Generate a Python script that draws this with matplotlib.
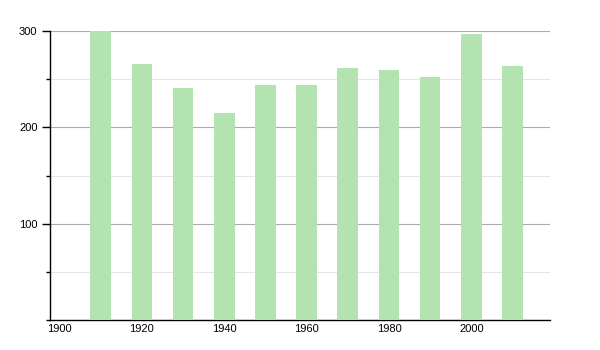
import matplotlib
matplotlib.use("Agg")
import matplotlib.pyplot as plt
from matplotlib.ticker import MultipleLocator

plt.rcParams['font.family'] = ['Liberation Sans', 'DejaVu Sans']

years = [1910, 1920, 1930, 1940, 1950, 1960, 1970, 1980, 1990, 2000, 2010]
values = [300, 266, 241, 215, 244, 244, 262, 260, 252, 297, 264]
xticks = [1900, 1920, 1940, 1960, 1980, 2000]
yticks = [100, 200, 300]

fig = plt.figure(figsize=(6, 3.5), dpi=100)
ax = fig.add_axes([0.0833, 0.0857, 0.8334, 0.8257])

ax.bar(years, values, width=5, color='#b3e3b1', zorder=3)

ax.set_xlim(1897.7, 2019.1)
ax.set_ylim(0, 300)
ax.set_xticks(xticks)
ax.set_yticks(yticks)
ax.yaxis.set_minor_locator(MultipleLocator(50))

ax.grid(axis='y', which='major', color='#aaaaaa', linewidth=0.8, zorder=0)
ax.grid(axis='y', which='minor', color='#e6e6e6', linewidth=0.8, zorder=0)

for s in ['top', 'right']:
    ax.spines[s].set_visible(False)
ax.spines['left'].set_linewidth(1)
ax.spines['bottom'].set_linewidth(1)

ax.tick_params(axis='x', length=0, pad=3, labelsize=8)
ax.tick_params(axis='y', which='major', length=6, width=1, pad=3, labelsize=8)
ax.tick_params(axis='y', which='minor', length=3, width=1)

fig.savefig('out.png', dpi=100)
